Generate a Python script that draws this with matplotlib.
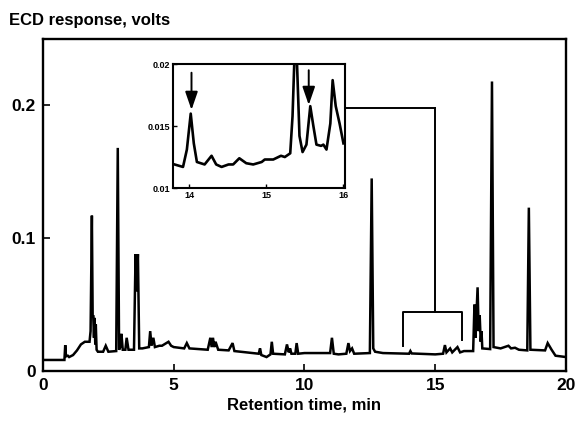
import matplotlib
matplotlib.use("Agg")
import matplotlib.pyplot as plt

plt.rcParams['font.family'] = ['Liberation Sans', 'DejaVu Sans']

# ---- main chromatogram trace (retention time, min ; ECD response, V) ----
main_time = [0.0, 0.82, 0.85, 0.88, 0.95, 1.0, 1.15, 1.3, 1.45, 1.6, 1.78, 1.82, 1.87, 1.9,
             1.92, 1.95, 1.97, 2.0, 2.02, 2.05, 2.1, 2.3, 2.4, 2.5, 2.8, 2.86, 2.91, 2.95,
             3.0, 3.05, 3.15, 3.2, 3.27, 3.48, 3.54, 3.58, 3.63, 3.68, 3.8, 4.05, 4.1, 4.15,
             4.22, 4.28, 4.45, 4.55, 4.8, 4.9, 5.0, 5.4, 5.5, 5.6, 6.3, 6.4, 6.45, 6.5, 6.55,
             6.6, 6.7, 7.1, 7.25, 7.32, 8.0, 8.25, 8.3, 8.35, 8.55, 8.7, 8.75, 8.8, 9.25,
             9.33, 9.4, 9.45, 9.5, 9.65, 9.7, 9.76, 10.0, 10.5, 10.98, 11.05, 11.12, 11.3,
             11.6, 11.68, 11.74, 11.82, 11.9, 12.5, 12.57, 12.63, 12.7, 13.0, 14.0, 14.05,
             14.1, 15.0, 15.3, 15.37, 15.43, 15.57, 15.65, 15.85, 15.95, 16.1, 16.2, 16.45,
             16.5, 16.54, 16.62, 16.66, 16.7, 16.74, 16.77, 16.8, 17.1, 17.17, 17.23, 17.5,
             17.8, 17.9, 18.05, 18.2, 18.52, 18.58, 18.64, 19.2, 19.3, 19.45, 19.6, 20.0]
main_resp = [0.0083, 0.0083, 0.0195, 0.011, 0.0115, 0.0105, 0.012, 0.0155, 0.020, 0.022,
             0.022, 0.030, 0.117, 0.040, 0.042, 0.025, 0.040, 0.020, 0.035, 0.016, 0.0145,
             0.0145, 0.019, 0.0145, 0.015, 0.168, 0.016, 0.018, 0.028, 0.016, 0.016, 0.025,
             0.016, 0.016, 0.088, 0.060, 0.088, 0.017, 0.017, 0.018, 0.030, 0.019, 0.025,
             0.018, 0.019, 0.019, 0.022, 0.019, 0.018, 0.017, 0.021, 0.017, 0.016, 0.025,
             0.018, 0.025, 0.018, 0.022, 0.016, 0.0155, 0.021, 0.015, 0.0135, 0.013, 0.017,
             0.012, 0.0105, 0.0125, 0.022, 0.013, 0.0125, 0.020, 0.014, 0.017, 0.013, 0.013,
             0.021, 0.013, 0.0135, 0.0135, 0.0135, 0.025, 0.013, 0.0125, 0.013, 0.021, 0.015,
             0.017, 0.013, 0.0135, 0.145, 0.017, 0.0145, 0.0135, 0.013, 0.015, 0.0132, 0.0125,
             0.013, 0.0195, 0.014, 0.017, 0.014, 0.018, 0.014, 0.015, 0.015, 0.015, 0.050,
             0.025, 0.063, 0.030, 0.042, 0.022, 0.030, 0.017, 0.0165, 0.218, 0.018, 0.017,
             0.019, 0.017, 0.0175, 0.016, 0.0155, 0.123, 0.016, 0.0155, 0.021, 0.016, 0.0115,
             0.0105]

# ---- inset trace (14-16 min) ----
inset_time = [13.81, 13.92, 13.97, 14.02, 14.06, 14.10, 14.20, 14.29, 14.35, 14.42, 14.51,
              14.57, 14.65, 14.74, 14.83, 14.94, 14.98, 15.09, 15.19, 15.24, 15.31, 15.34,
              15.37, 15.39, 15.43, 15.47, 15.52, 15.57, 15.61, 15.65, 15.71, 15.74, 15.78,
              15.83, 15.86, 15.90, 15.95, 16.0]
inset_resp = [0.0119, 0.0117, 0.0131, 0.0160, 0.0136, 0.0121, 0.0119, 0.0126, 0.0119,
              0.0117, 0.0119, 0.0119, 0.0124, 0.0120, 0.0119, 0.0121, 0.0123, 0.0123,
              0.0126, 0.0125, 0.0128, 0.0158, 0.0215, 0.0215, 0.0142, 0.0129, 0.0135,
              0.0166, 0.0150, 0.0135, 0.0134, 0.0135, 0.0131, 0.0152, 0.0187, 0.0166,
              0.0152, 0.0136]

# arrows in inset: (time, start, end)
arrow_time = [14.03, 15.55]
arrow_start = [0.0193, 0.0195]
arrow_end = [0.0163, 0.0167]

xticks = [0, 5, 10, 15, 20]
yticks = [0, 0.1, 0.2]
ytick_labels = ['0', '0.1', '0.2']
inset_xticks = [14, 15, 16]
inset_yticks = [0.01, 0.015, 0.02]
inset_ytick_labels = ['0.01', '0.015', '0.02']

fig = plt.figure(figsize=(5.77, 4.21), dpi=100)
ax = fig.add_axes([0.0745, 0.1188, 0.9064, 0.7886])
ax.plot(main_time, main_resp, color='black', lw=1.8, solid_joinstyle='miter')
ax.set_xlim(0, 20)
ax.set_ylim(0, 0.25)
ax.set_xticks(xticks)
ax.set_xticklabels([str(t) for t in xticks])
ax.set_yticks(yticks)
ax.set_yticklabels(ytick_labels)
ax.tick_params(direction='in', length=5, width=1.2, labelsize=12.5, pad=5)
for lab in ax.get_xticklabels() + ax.get_yticklabels():
    lab.set_fontweight('bold')
for s in ax.spines.values():
    s.set_linewidth(1.7)
ax.set_xlabel('Retention time, min', fontsize=12, fontweight='bold', labelpad=3)
fig.text(0.015, 0.952, 'ECD response, volts', fontsize=12, fontweight='bold',
         ha='left', va='center')

# bracket and connector
ax.plot([13.77, 13.77, 16.02, 16.02], [0.0188, 0.0444, 0.0444, 0.0233],
        color='black', lw=1.4)
ax.plot([14.99, 14.99], [0.0444, 0.198], color='black', lw=1.4)
ax.plot([11.55, 14.99], [0.198, 0.198], color='black', lw=1.4)

# inset
ins = fig.add_axes([0.2998, 0.5534, 0.2981, 0.2945])
ins.plot(inset_time, inset_resp, color='black', lw=1.9, solid_joinstyle='round')
ins.set_xlim(13.79, 16.02)
ins.set_ylim(0.01, 0.02)
ins.set_xticks(inset_xticks)
ins.set_xticklabels([str(t) for t in inset_xticks])
ins.set_yticks(inset_yticks)
ins.set_yticklabels(inset_ytick_labels)
ins.tick_params(direction='in', length=3, width=1, labelsize=6.5, pad=2)
for lab in ins.get_xticklabels() + ins.get_yticklabels():
    lab.set_fontweight('bold')
for s in ins.spines.values():
    s.set_linewidth(1.5)
for t, y0, y1 in zip(arrow_time, arrow_start, arrow_end):
    ins.annotate('', xy=(t, y1), xytext=(t, y0),
                 arrowprops=dict(arrowstyle='-|>,head_length=1.1,head_width=0.38',
                                 color='black', lw=1.4, shrinkA=0, shrinkB=0))

fig.savefig('out.png', dpi=100)
